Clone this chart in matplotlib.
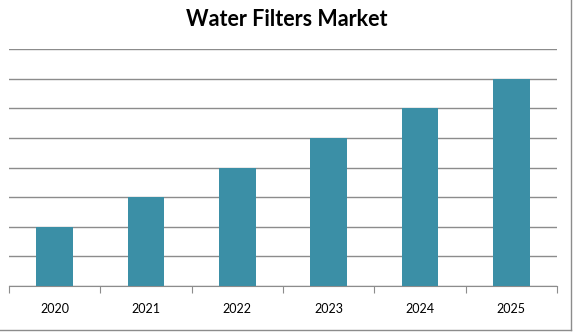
import matplotlib

matplotlib.use("Agg")
import matplotlib.pyplot as plt
from matplotlib.lines import Line2D

years = ["2020", "2021", "2022", "2023", "2024", "2025"]
values = [2, 3, 4, 5, 6, 7]

plt.rcParams["font.family"] = ["Lato", "DejaVu Sans"]

fig = plt.figure(figsize=(5.74, 3.33), dpi=100)
ax = fig.add_axes([9 / 574, 1 - 286 / 333, (557 - 9) / 574, (286 - 49) / 333])

x = range(len(years))
ax.bar(x, values, width=0.4, color="#3B8FA6", zorder=3)

ax.set_xlim(-0.5, len(years) - 0.5)
ax.set_ylim(0, 8)
ax.set_yticks(range(0, 9))
ax.yaxis.grid(True, color="#8c8c8c", linewidth=1.0, zorder=0)
ax.tick_params(axis="y", left=False, labelleft=False)

# ticks between categories, labels centred under bars
ax.set_xticks([i - 0.5 for i in range(len(years) + 1)])
ax.set_xticklabels([])
ax.set_xticks(list(x), minor=True)
ax.set_xticklabels(years, minor=True, fontsize=9)
ax.tick_params(axis="x", which="major", length=5, color="#8c8c8c", direction="out")
ax.tick_params(axis="x", which="minor", length=0, pad=12)

for side in ["top", "right", "left"]:
    ax.spines[side].set_visible(False)
ax.spines["bottom"].set_color("#8c8c8c")

fig.text(0.5, 1 - 20 / 333, "Water Filters Market", ha="center", va="center",
         fontsize=15.5, fontweight="bold")

# outer frame on right and bottom
fig.add_artist(Line2D([571 / 574, 571 / 574], [1 - 330 / 333, 1], color="#8c8c8c", linewidth=1.0))
fig.add_artist(Line2D([0, 571 / 574], [1 - 330 / 333, 1 - 330 / 333], color="#8c8c8c", linewidth=1.0))

fig.savefig("out.png", dpi=100)
plt.close(fig)
